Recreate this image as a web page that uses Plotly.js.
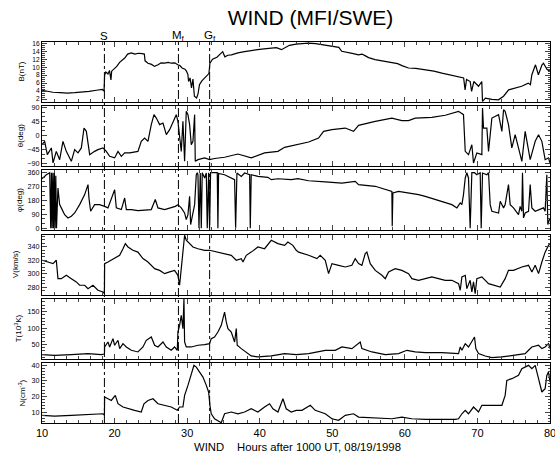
<!DOCTYPE html>
<html><head><meta charset="utf-8">
<script src="https://cdn.plot.ly/plotly-3.0.1.min.js"></script>
<style>html,body{margin:0;padding:0;background:#fff;} #chart{width:555px;height:453px;}</style>
</head><body><div id="chart"></div>
<script>
// ---------- data (hours after 1000 UT, 08/19/1998) ----------
const hoursB = [10,10.5,11.5,12.5,13.5,14.5,15.5,16.5,17.5,18.3,18.55,18.63,18.8,19.1,19.3,19.5,19.6,19.9,20.3,20.7,21.0,21.4,21.8,22.3,22.8,23.3,23.8,24.1,24.2,24.6,25.1,25.5,26.0,26.4,26.9,27.4,27.8,28.3,28.7,29.0,29.3,29.7,29.9,30.1,30.2,30.4,30.6,30.8,31.0,31.3,31.5,31.7,32.0,32.2,32.6,33.0,33.14,33.5,34.1,34.7,34.9,35.2,35.6,36.1,37.0,37.9,38.8,39.7,40.6,41.4,42.3,43.0,43.5,44.1,45.0,
  45.8,46.7,47.7,48.8,50.0,50.9,51.3,52.0,52.9,53.6,54.1,54.5,55.0,55.9,57.0,58.2,59.0,59.6,60.5,61.5,62.8,64.0,65.1,66.3,67.4,68.1,68.3,68.5,69.0,69.2,69.5,70.15,70.6,70.7,71.1,72.0,72.9,73.6,74.3,75.2,76.1,77.0,77.3,77.5,78.0,78.4,78.9,79.1,79.6,80.0];
const valuesB = [4.2,4.0,3.7,3.6,3.5,3.6,3.7,3.9,4.2,4.4,4.0,8.0,8.8,8.3,9.2,6.8,9.0,9.5,10.2,11.2,11.6,12.3,13.3,13.6,13.3,13.5,13.4,13.3,11.6,11.0,10.7,10.2,10.6,11.1,11.0,11.2,11.0,11.1,10.6,10.4,9.8,9.5,9.0,8.2,6.4,7.3,4.8,7.0,2.7,2.25,3.3,5.6,6.5,6.9,7.8,8.4,11.0,12.0,12.5,13.4,13.9,12.6,13.0,13.1,13.6,13.9,14.2,14.4,14.6,14.8,14.9,14.4,15.0,15.5,15.8,
  15.9,16.05,15.9,15.6,15.2,15.0,14.0,13.8,13.4,13.1,13.3,12.9,12.4,11.9,11.5,11.05,10.9,10.4,9.8,9.7,9.4,9.0,8.5,8.0,7.4,7.3,4.3,6.9,6.4,3.9,6.4,5.2,6.4,1.4,2.2,1.9,1.8,2.7,4.3,4.8,5.2,6.0,5.6,8.1,10.6,8.1,10.6,11.0,9.4,9.0];

const hoursTheta = [10.0,10.37,10.73,11.29,11.52,11.97,12.43,12.89,13.35,13.81,14.04,14.5,14.96,15.42,15.79,16.11,16.34,16.57,17.25,17.71,18.4,18.86,19.32,20.01,20.47,20.93,21.39,22.08,23.22,23.68,24.14,24.6,25.06,25.43,25.75,26.21,26.67,27.13,27.59,28.04,28.5,28.73,28.96,29.19,29.42,29.65,29.88,30.11,30.34,30.57,30.8,31.03,31.12,31.49,32.41,33.09,33.78,35.16,37.0,38.83,40.67,42.51,43.43,45.26,
  46.74,48.11,48.8,49.95,51.79,52.93,53.62,55.92,58.21,59.59,60.51,61.43,63.72,65.56,67.4,68.08,68.32,68.77,69.23,69.46,69.92,70.61,70.7,70.84,71.3,71.53,71.99,72.91,73.37,73.6,73.82,74.28,74.74,75.2,76.12,76.58,77.27,77.96,78.42,78.88,79.33,79.79,80.0];
const valuesTheta = [-29.5,-18.7,-61.6,-40,-88,-51,-77.7,-18.7,-51,-72,-83,-45.5,-56,-40,24,13.4,-29.5,-61.6,-51,-45.5,-40,-51,-67,-72,-51,-67,-56,-56,-51,-18.7,-8,-18.7,35,67,56,35,40,2.7,18.7,40,67,45.5,2.7,-51,45.5,-83,77.7,67,35,-29.5,-18.7,67,-83,-77.7,-72,-77.7,-74,-70,-59.5,-72,-56,-51,-38,-29.5,
  -21,-8,13.4,18.7,24,13.4,32.7,45.5,56,48,48,56,58,65,77.7,67,-51,-61.6,-29.5,-88.4,-56,-61.6,88,24,24,-51,56,67,13.4,83,77.7,35,-40,2.7,-83,13.4,-77.7,-18.7,2.7,-18.7,-77.7,-72,-88.4];

const hoursPhi = [10.0,10.6,11.06,11.2,11.3,11.4,11.5,11.6,11.7,11.8,11.9,12.0,12.2,12.43,12.66,13.12,13.58,14.04,14.5,15.19,15.88,16.34,16.47,16.7,17.25,17.94,18.63,19.09,20.01,20.24,20.93,21.39,21.62,22.3,23.22,25.06,25.61,25.98,26.9,27.81,28.37,28.73,29.19,29.65,29.88,30.11,30.34,30.48,30.8,31.03,31.26,31.4,31.49,31.63,31.81,31.95,32.08,32.41,32.64,32.77,32.96,33.09,33.23,33.78,34.15,34.24,34.33,35.16,36.08,36.54,36.68,36.86,37.46,37.92,38.61,38.7,38.83,39.75,41.13,41.59,42.51,44.34,45.26,
  46.74,49.03,51.33,53.16,53.62,55.92,57.3,58.21,58.26,58.35,59.13,60.51,61.89,62.81,65.1,66.48,67.17,67.63,67.86,68.08,68.32,68.54,68.77,69.0,69.23,69.6,69.92,70.38,70.52,70.7,71.3,71.53,71.76,71.99,72.91,73.14,73.6,73.82,74.28,74.51,74.97,75.66,75.89,76.12,76.21,76.35,76.58,77.04,77.27,77.5,77.96,78.42,79.1,79.33,79.56,79.7,80.0];
const valuesPhi = [321,347,360,0,360,0,360,0,360,0,340,0,261,153,132,88,67,78,99,153,218,283,196,110,153,153,142,132,250,132,121,196,121,121,114,121,186,132,121,132,142,153,132,99,56,88,207,24,110,153,347,360,347,0,358,0,360,326,358,0,360,0,360,358,360,0,355,347,326,315,0,358,336,358,347,0,347,336,330,315,321,315,321,
  308,300,293,304,283,272,250,239,13,229,239,229,218,207,175,153,132,164,153,218,326,360,326,0,360,360,347,360,0,358,347,360,153,110,99,175,132,153,283,153,132,88,142,110,360,67,99,110,283,132,110,121,132,110,347,24,67];

const hoursV = [10.0,10.83,11.52,11.97,12.2,12.66,13.35,14.04,14.73,15.19,15.88,16.34,17.02,17.71,18.4,18.6,18.63,19.09,20.01,20.7,21.16,21.48,21.85,22.53,23.22,23.91,24.6,25.06,25.52,26.21,26.9,27.59,28.27,28.73,28.96,29.19,29.42,29.65,29.88,30.34,30.8,31.49,32.41,33.09,34.24,35.16,36.08,36.77,37.46,37.69,38.15,38.83,39.75,40.67,41.59,42.51,43.43,43.88,44.57,45.03,
  45.36,46.74,47.88,48.34,49.03,49.49,49.95,50.87,51.79,52.7,53.16,53.62,54.08,54.54,54.77,55.23,55.92,56.84,57.3,57.76,58.67,59.59,60.51,60.97,61.89,62.81,63.72,64.64,65.56,66.48,67.4,67.63,67.86,68.32,68.54,69.0,69.23,69.46,69.69,69.92,70.61,71.53,72.45,73.14,73.82,74.28,74.97,76.12,77.04,77.5,77.96,78.42,78.88,79.33,79.79,80.0];
const valuesV = [320,317.4,315,320,292.8,292.8,297.7,292.8,287.9,283,283,278,283,275.6,273.1,271,315,317.4,322.4,327.3,337,344.5,339.6,334.7,332,322.4,317.4,312.5,307.6,305,300.2,302.7,305,297.7,283,307.6,332,356.9,349.5,344.5,339.6,337,334.7,334.7,332,329.8,327.3,320,322.4,317.4,327.3,332,339.6,337,349.5,344.5,342,347,342,334.7,
  332,327.3,322.4,327.3,320,300.2,315,312.5,310,312.5,322.4,315,312.5,329.8,332,315,305,297.7,292.8,302.7,307.6,305,300.2,292.8,290.3,292.8,295.3,292.8,290.3,290.3,285.4,275.6,295.3,297.7,278,290.3,273.1,287.9,270.6,292.8,295.3,285.4,283,280.5,292.8,305,305,310,312.5,302.7,312.5,300.2,317.4,332,342,344.5];

const hoursT = [10.0,11.74,14.04,16.34,18.17,18.6,18.63,19.09,19.32,19.78,20.01,20.47,20.7,21.16,21.62,22.3,23.22,23.91,24.37,25.06,25.52,25.98,26.67,27.13,27.81,28.27,28.64,28.73,28.96,29.19,29.42,29.56,29.65,29.88,30.57,31.49,32.41,33.09,33.32,33.78,34.24,34.7,34.93,35.16,35.39,35.62,36.08,36.54,36.77,36.9,37.46,38.15,38.83,39.75,41.59,43.43,45.03,
  46.74,48.11,49.03,50.41,51.33,52.7,53.85,54.08,55.46,57.3,59.13,60.28,61.43,62.81,65.1,67.4,67.63,67.86,68.32,68.77,69.23,69.6,69.78,70.15,71.07,71.99,73.37,74.74,76.58,77.04,77.5,78.42,78.88,79.33,79.79,80.0];
const valuesT = [18.3,16.3,18.3,21.4,18.3,20,41.8,57,41.8,67.4,47,62.3,36.7,52,41.8,31.6,26.5,41.8,62.3,72.5,47,41.8,57,41.8,31.6,41.8,31.6,87.8,108,139,98,190,57,41.8,41.8,47,49,52,67.4,72.5,87.8,108,129,149,118.5,98,87.8,57,98,47,36.7,26.5,14.2,11.2,14.2,21.4,18.3,
  21.4,26.5,31.6,31.6,41.8,36.7,57,36.7,26.5,18.3,21.4,31.6,26.5,24.4,24.4,21.4,41.8,31.6,52,41.8,57,72.5,36.7,21.4,14.2,9.1,11.2,16.3,21.4,31.6,41.8,47,36.7,41.8,52,36.7];

const hoursN = [10.0,11.74,14.04,16.34,18.4,18.6,18.63,19.09,19.55,20.1,20.47,21.16,21.85,22.76,23.68,24.05,24.6,25.29,25.98,26.9,27.81,28.64,28.96,29.42,29.65,30.11,30.57,30.94,31.26,31.72,32.18,32.64,32.96,33.14,33.32,33.78,34.7,35.16,36.08,37.0,37.92,38.83,39.75,40.67,41.36,41.82,42.51,43.2,43.65,44.34,45.03,
  45.82,46.97,47.65,49.03,49.95,50.87,51.79,52.93,53.62,55.92,58.21,59.59,60.97,62.81,65.1,66.94,67.4,67.86,68.32,68.77,69.46,70.15,70.61,71.07,71.99,73.37,73.82,74.05,74.74,75.66,76.12,76.58,77.04,77.5,77.96,78.42,78.88,79.33,79.56,79.79,80.0];
const valuesN = [7.9,7.4,7.9,8.3,8.9,8.0,19.6,18.5,17.4,20.6,15.3,13.2,12.1,11.1,10.0,15.3,17.4,18.5,15.3,14.3,13.2,11.1,13.2,13.2,20.6,27,33.4,39.8,38.7,35.5,32.3,27,22.8,14.3,8.9,5.7,3.2,8.9,10,8.9,10,12.1,10,13.2,15.3,12.1,10,18.5,12.1,10,11.1,
  11.1,14.3,11.1,8.9,5.7,4.7,7.9,8.9,6.8,6.2,5.7,6.8,5.7,5.3,5.1,5.3,5.7,8.9,11.1,8.9,13.2,10,14.3,14.3,14.3,14.3,20.6,30.2,31.3,33.4,37.7,38.7,39.8,37.7,39.8,31.3,22.8,24.9,33.4,35.5,29.1];

// event markers
const eventTimes = [18.6, 28.8, 33.1];
const eventLabels = ['S', 'M<sub>f</sub>', 'G<sub>f</sub>'];

// tick labels
const xTicks = [10, 20, 30, 40, 50, 60, 70, 80];
const ticksB = [2, 4, 6, 8, 10, 12, 14, 16];
const ticksTheta = [-90, -45, 0, 45, 90];
const ticksPhi = [0, 90, 180, 270, 360];
const ticksV = [280, 300, 320, 340];
const ticksT = [50, 100, 150];
const ticksN = [10, 20, 30, 40];

// ---------- chart ----------
const FONT = 'Liberation Sans, Arial, Helvetica, sans-serif';
const panels = [
  {x: hoursB, y: valuesB, title: 'B(nT)', range: [1.25, 16.33], ticks: ticksB, minor: 0.5, fs: 6.6, tx: 21.5},
  {x: hoursTheta, y: valuesTheta, title: 'θ(deg)', range: [-98.7, 94.2], ticks: ticksTheta, minor: 15, fs: 7.2, tx: 20},
  {x: hoursPhi, y: valuesPhi, title: 'φ(deg)', range: [-14, 375], ticks: ticksPhi, minor: 30, fs: 7.2, tx: 19.5},
  {x: hoursV, y: valuesV, title: 'V(km/s)', range: [269.2, 357.9], ticks: ticksV, minor: 5, fs: 7.2, tx: 15.5},
  {x: hoursT, y: valuesT, title: 'T(10<sup>3</sup>K)', range: [5.5, 189.6], ticks: ticksT, minor: 10, fs: 7.2, tx: 17.5},
  {x: hoursN, y: valuesN, title: 'N(cm<sup>-3</sup>)', range: [3.0, 41.3], ticks: ticksN, minor: 2, fs: 7.2, tx: 21.5}
];

const PLOT_L = 42, PLOT_W = 508, PLOT_H = 381;
const H = 60 / PLOT_H, STEP = 64.2 / PLOT_H;
const traces = [];
const layout = {
  width: 555, height: 453,
  margin: {l: 42, r: 5, t: 42, b: 30},
  paper_bgcolor: '#fff', plot_bgcolor: '#fff',
  showlegend: false,
  font: {family: FONT, color: '#000', size: 10},
  title: {text: 'WIND (MFI/SWE)', font: {family: FONT, size: 21, color: '#000'},
          x: 310.5 / 555, xanchor: 'center', xref: 'container', y: 1 - 17.5 / 453, yanchor: 'middle', yref: 'container'},
  shapes: [], annotations: []
};

panels.forEach((p, i) => {
  const n = i === 0 ? '' : String(i + 1);
  traces.push({x: p.x, y: p.y, xaxis: 'x' + n, yaxis: 'y' + n, type: 'scatter', mode: 'lines',
               line: {color: '#000', width: 1.2}, hoverinfo: 'skip'});
  const top = 1 - i * STEP;
  const bottom = Math.max(0, top - H);
  layout['yaxis' + n] = {
    domain: [bottom, top], range: p.range, anchor: 'x' + n,
    tickmode: 'array', tickvals: p.ticks, ticks: 'inside', ticklen: 5, tickwidth: 1,
    minor: {dtick: p.minor, ticks: 'inside', ticklen: 2.5, tickwidth: 1, showgrid: false},
    showline: true, linecolor: '#000', linewidth: 1, mirror: 'allticks',
    showgrid: false, zeroline: false, tickfont: {family: FONT, size: p.fs, color: '#000'}
  };
  layout.annotations.push({xref: 'paper', yref: 'paper', x: (p.tx - PLOT_L) / PLOT_W, y: (bottom + top) / 2,
                           text: p.title, textangle: -90, showarrow: false, xanchor: 'center', yanchor: 'middle',
                           font: {family: FONT, size: 8, color: '#000'}});
  layout['xaxis' + n] = {
    domain: [0, 1], range: [10, 80], anchor: 'y' + n,
    tickmode: 'array', tickvals: xTicks, ticks: 'inside', ticklen: 5, tickwidth: 1,
    minor: {dtick: 10 / 6, tick0: 10, ticks: 'inside', ticklen: 3, tickwidth: 1, showgrid: false},
    showline: true, linecolor: '#000', linewidth: 1, mirror: 'allticks',
    showgrid: false, zeroline: false, showticklabels: i === panels.length - 1,
    ticklabeloverflow: 'allow',
    tickfont: {family: FONT, size: 11, color: '#000'}
  };
  if (i > 0) layout['xaxis' + n].matches = 'x';
});

eventTimes.forEach((t, k) => {
  layout.shapes.push({type: 'line', xref: 'x', yref: 'paper', x0: t, x1: t, y0: 0, y1: 1,
                      line: {color: '#000', width: 1, dash: 'dashdot'}});
  layout.annotations.push({xref: 'x', yref: 'paper', x: t, y: 1.0157, text: eventLabels[k],
                           showarrow: false, xanchor: 'center', yanchor: 'middle',
                           font: {family: FONT, size: 11.5, color: '#000'}});
});
const xTitleY = (423 - 447) / PLOT_H;
layout.annotations.push({xref: 'paper', yref: 'paper', x: (192 - PLOT_L) / PLOT_W, y: xTitleY, text: 'WIND',
                         showarrow: false, xanchor: 'left', yanchor: 'middle', font: {family: FONT, size: 11.3, color: '#000'}});
layout.annotations.push({xref: 'paper', yref: 'paper', x: (235 - PLOT_L) / PLOT_W, y: xTitleY, text: 'Hours after 1000 UT, 08/19/1998',
                         showarrow: false, xanchor: 'left', yanchor: 'middle', font: {family: FONT, size: 11.3, color: '#000'}});

Plotly.newPlot('chart', traces, layout, {staticPlot: true, displayModeBar: false});
</script></body></html>
